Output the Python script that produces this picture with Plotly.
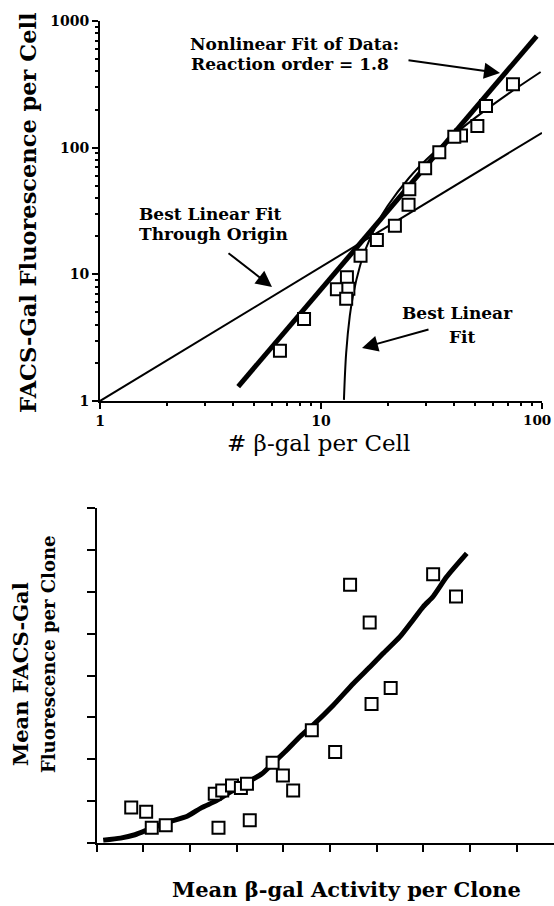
import plotly.graph_objects as go

W, H = 554, 906

# ---------------- top panel data (log-log) ----------------
top_x = [73.9, 55.8, 51.0, 43.0, 40.1, 34.3, 29.6, 25.1, 24.9, 21.6, 17.9, 15.1,
         13.1, 11.8, 13.3, 13.0, 8.38, 6.52]
top_y = [316, 213, 148, 125, 122, 91.8, 68.7, 46.9, 35.4, 24.2, 18.7, 14.0,
         9.47, 7.62, 7.70, 6.42, 4.44, 2.49]
origin_fit_x = [1, 100]
origin_fit_y = [1, 131]
nonlin_fit_x = [4.22, 94.6]
nonlin_fit_y = [1.30, 760]
lin_fit_x = [12.7, 13, 13.5, 14, 15, 16, 18, 20, 25, 30, 40, 50, 70, 98.6]
lin_fit_y = [1.02, 2.4, 4.7, 7.0, 11.6, 16.2, 25.4, 34.6, 57.6, 80.6, 126.6, 172.6, 264.6, 396]
top_xticks = [1, 10, 100]
top_xtick_text = ["1", "10", ""]      # the last label ("100") is drawn flush with the right edge
top_xlast_label = "100"
top_yticks = [1, 10, 100, 1000]
top_ytick_text = ["1", "10", "100", "1000"]
top_xminor = [2, 3, 4, 5, 6, 7, 8, 9, 20, 30, 40, 50, 60, 70, 80, 90]
top_yminor = [2, 3, 4, 5, 6, 7, 8, 9, 20, 30, 40, 50, 60, 70, 80, 90,
              200, 300, 400, 500, 600, 700, 800, 900]

# ---------------- bottom panel data (linear, arbitrary units) ----------------
bot_x = [0.74, 1.06, 1.18, 1.48, 2.61, 2.53, 2.69, 2.90, 3.09, 3.22, 3.28,
         3.77, 3.99, 4.21, 4.61, 5.11, 5.43, 5.85, 5.89, 6.30, 7.21, 7.70]
bot_y = [0.84, 0.74, 0.36, 0.42, 0.36, 1.17, 1.25, 1.37, 1.31, 1.41, 0.54,
         1.91, 1.61, 1.25, 2.69, 2.17, 6.17, 5.27, 3.32, 3.70, 6.42, 5.89]
bot_curve_x = [0.14, 0.51, 0.82, 1.12, 1.50, 1.95, 2.25, 2.56, 2.86, 3.24, 3.54,
               3.77, 4.07, 4.36, 4.64, 5.07, 5.50, 5.86, 6.14, 6.50, 6.78, 7.00,
               7.21, 7.50, 7.93]
bot_curve_y = [0.06, 0.11, 0.19, 0.32, 0.48, 0.64, 0.84, 1.00, 1.21, 1.45, 1.65,
               1.89, 2.21, 2.54, 2.82, 3.29, 3.81, 4.21, 4.53, 4.93, 5.33, 5.65,
               5.89, 6.36, 6.92]
bot_xticks = [0, 1, 2, 3, 4, 5, 6, 7, 8, 9]
bot_yticks = [0, 1, 2, 3, 4, 5, 6, 7, 8]


def px(x):
    return x / W


def py(y):
    return 1 - y / H


SERIF = "DejaVu Serif"
BLACK = "black"

fig = go.Figure()

# top panel traces
fig.add_trace(go.Scatter(x=origin_fit_x, y=origin_fit_y, mode="lines",
                         line=dict(color=BLACK, width=2), xaxis="x", yaxis="y"))
fig.add_trace(go.Scatter(x=lin_fit_x, y=lin_fit_y, mode="lines",
                         line=dict(color=BLACK, width=2, shape="spline"), xaxis="x", yaxis="y"))
fig.add_trace(go.Scatter(x=nonlin_fit_x, y=nonlin_fit_y, mode="lines",
                         line=dict(color=BLACK, width=5), xaxis="x", yaxis="y"))
fig.add_trace(go.Scatter(x=top_x, y=top_y, mode="markers",
                         marker=dict(symbol="square", size=12, color="white",
                                     line=dict(color=BLACK, width=2)),
                         xaxis="x", yaxis="y"))

# bottom panel traces
fig.add_trace(go.Scatter(x=bot_curve_x, y=bot_curve_y, mode="lines",
                         line=dict(color=BLACK, width=5, shape="spline", smoothing=0.6),
                         xaxis="x2", yaxis="y2"))
fig.add_trace(go.Scatter(x=bot_x, y=bot_y, mode="markers",
                         marker=dict(symbol="square", size=12, color="white",
                                     line=dict(color=BLACK, width=2)),
                         xaxis="x2", yaxis="y2"))

tickfont = dict(family=SERIF, size=14, color=BLACK, weight="bold")
common = dict(showline=True, linewidth=2, linecolor=BLACK, ticks="outside",
              tickwidth=2, tickcolor=BLACK, showgrid=False, zeroline=False,
              tickfont=tickfont, mirror=False, automargin=False,
              ticklabeloverflow="allow")

fig.update_layout(
    template="none",
    width=W, height=H, autosize=False,
    margin=dict(l=0, r=0, t=0, b=0, pad=0),
    paper_bgcolor="white", plot_bgcolor="white",
    showlegend=False,
    xaxis=dict(type="log", range=[0, 2], domain=[px(100), px(542)], anchor="y",
               tickvals=top_xticks, ticktext=top_xtick_text, ticklen=6,
               minor=dict(ticks="outside", ticklen=3, tickwidth=1.5, tickcolor=BLACK,
                          tickvals=top_xminor, showgrid=False),
               **common),
    yaxis=dict(type="log", range=[0, 3], domain=[py(401), py(21)], anchor="x",
               tickvals=top_yticks, ticktext=top_ytick_text, ticklen=6,
               minor=dict(ticks="outside", ticklen=3, tickwidth=1.5, tickcolor=BLACK,
                          tickvals=top_yminor, showgrid=False),
               **common),
    xaxis2=dict(range=[0, 9.8], domain=[px(96.7), 1.0], anchor="y2",
                tickvals=bot_xticks, showticklabels=False, ticklen=7, **common),
    yaxis2=dict(range=[0, 8], domain=[py(842.7), py(508.3)], anchor="x2",
                tickvals=bot_yticks, showticklabels=False, ticklen=8, **common),
)

ann_font = dict(family=SERIF, size=17, color=BLACK, weight="bold")


def text_ann(x, y, text, font, angle=0, xanchor="center"):
    fig.add_annotation(x=px(x), y=py(y), xref="paper", yref="paper", text=text,
                       showarrow=False, font=font, textangle=angle,
                       xanchor=xanchor, yanchor="middle", align="center")


def arrow_ann(tail, head):
    fig.add_annotation(x=px(head[0]), y=py(head[1]), xref="paper", yref="paper",
                       text="", showarrow=True, arrowhead=2, arrowsize=1.6,
                       arrowwidth=2, arrowcolor=BLACK,
                       ax=tail[0] - head[0], ay=tail[1] - head[1])


# last x tick label of the top panel, kept inside the picture like the reference
text_ann(553, 420, top_xlast_label, dict(family=SERIF, size=13.5, color=BLACK, weight="bold"),
         xanchor="right")

# annotations in the top panel
text_ann(294, 44, "Nonlinear Fit of Data:", ann_font)
text_ann(290, 64, "Reaction order = 1.8", ann_font)
arrow_ann((407, 60), (500, 73))
text_ann(210, 214, "Best Linear Fit", ann_font)
text_ann(213, 234, "Through Origin", ann_font)
arrow_ann((227, 252), (272, 287))
text_ann(457, 313, "Best Linear", ann_font)
text_ann(462, 337, "Fit", ann_font)
arrow_ann((430, 329), (362, 348))

# axis titles
text_ann(28, 213, "FACS-Gal Fluorescence per Cell",
         dict(family=SERIF, size=22.5, color=BLACK, weight="bold"), angle=-90)
text_ann(318, 443, "# β-gal per Cell",
         dict(family=SERIF, size=23, color=BLACK))
text_ann(20, 674, "Mean FACS-Gal",
         dict(family=SERIF, size=21, color=BLACK, weight="bold"), angle=-90)
text_ann(48, 655, "Fluorescence per Clone",
         dict(family=SERIF, size=18, color=BLACK, weight="bold"), angle=-90)
text_ann(346, 889, "Mean β-gal Activity per Clone",
         dict(family=SERIF, size=21, color=BLACK, weight="bold"))

post = (
    "document.documentElement.style.margin='0';"
    "document.documentElement.style.padding='0';"
    "document.documentElement.style.overflow='hidden';"
    "document.body.style.margin='0';"
    "document.body.style.padding='0';"
    "document.body.style.overflow='hidden';"
    "var d=document.getElementById('{plot_id}');"
    "d.style.display='block';"
)

fig.write_html("out.html", config={"displayModeBar": False}, post_script=post)
